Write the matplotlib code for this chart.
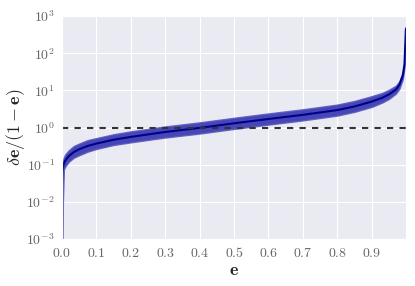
import numpy as np
import matplotlib
matplotlib.use("Agg")
import matplotlib.pyplot as plt
import seaborn as sns
from matplotlib.ticker import FixedLocator, FuncFormatter, NullLocator

sns.set_style("darkgrid")
plt.rcParams['mathtext.fontset'] = 'cm'

# values (e, centre line, band low / high)
e_vals = [0.0, 0.001, 0.003, 0.006, 0.01, 0.02, 0.035, 0.05, 0.075, 0.1,
          0.15, 0.2, 0.3, 0.4, 0.5, 0.6, 0.7, 0.8, 0.85, 0.9,
          0.93, 0.95, 0.97, 0.98, 0.99, 0.995, 0.999]
ratio_mid = [0.03, 0.06, 0.085, 0.11, 0.13, 0.17, 0.22, 0.26, 0.32, 0.37,
             0.47, 0.56, 0.76, 0.98, 1.3, 1.7, 2.2, 2.95, 3.7, 5.0,
             6.3, 7.8, 10.5, 14.0, 25.0, 50.0, 450.0]
ratio_low = [0.0001, 0.0001, 0.01, 0.075, 0.09, 0.12, 0.155, 0.18, 0.225, 0.265,
             0.34, 0.40, 0.54, 0.69, 0.92, 1.2, 1.56, 2.1, 2.65, 3.6,
             4.7, 5.9, 8.2, 11.0, 20.0, 42.0, 400.0]
ratio_high = [0.05, 0.09, 0.125, 0.16, 0.19, 0.245, 0.32, 0.37, 0.46, 0.52,
              0.66, 0.79, 1.07, 1.38, 1.83, 2.4, 3.1, 4.15, 5.2, 7.0,
              8.5, 10.4, 13.4, 17.5, 31.0, 60.0, 520.0]
x_ticks = [0.0, 0.1, 0.2, 0.3, 0.4, 0.5, 0.6, 0.7, 0.8, 0.9]
y_ticks = [1e-3, 1e-2, 1e-1, 1e0, 1e1, 1e2, 1e3]

fig = plt.figure(figsize=(4.15, 2.86), dpi=100)
ax = fig.add_axes([0.149, 0.164, 0.829, 0.78])

ax.fill_between(e_vals, ratio_low, ratio_high, color='#3434b0', alpha=0.9,
                lw=1.0, edgecolor='#5a5ac0')
ax.plot(e_vals, ratio_mid, color='#00008b', lw=1.5)
ax.axhline(1.0, color='#333333', ls='--', lw=1.5, dashes=(3, 3))

ax.set_yscale('log')
ax.set_xlim(0, e_vals[-1])
ax.set_ylim(1e-3, 1e3)
ax.xaxis.set_major_locator(FixedLocator(x_ticks))
ax.yaxis.set_major_locator(FixedLocator(y_ticks))
ax.yaxis.set_minor_locator(NullLocator())
ax.xaxis.set_major_formatter(FuncFormatter(lambda v, p: r'$%.1f$' % v))
ax.yaxis.set_major_formatter(FuncFormatter(lambda v, p: r'$10^{%d}$' % round(np.log10(v))))
ax.tick_params(labelsize=10, labelcolor='#666666', length=0, pad=5)

ax.set_xlabel(r'$\mathbf{e}$', fontsize=13)
ax.set_ylabel(r'$\mathbf{\delta e/(1-e)}$', fontsize=13)
ax.xaxis.set_label_coords(0.5, -0.1)
ax.yaxis.set_label_coords(-0.1, 0.5)

fig.savefig('out.png', dpi=100)
